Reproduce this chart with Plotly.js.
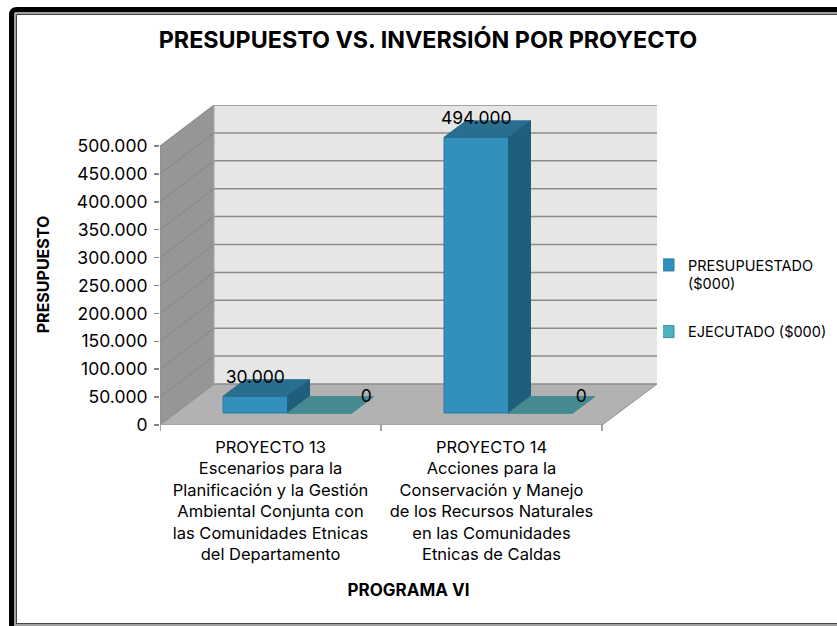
<!DOCTYPE html>
<html>
<head>
<meta charset="utf-8">
<script src="https://cdn.plot.ly/plotly-3.0.1.min.js"></script>
<style>html,body{margin:0;padding:0;background:#fff;overflow:hidden}#c{width:837px;height:626px}</style>
</head>
<body>
<div id="c"></div>
<script>
var categories = [
  'PROYECTO 13<br>Escenarios para la<br>Planificación y la Gestión<br>Ambiental Conjunta con<br>las Comunidades Etnicas<br>del Departamento',
  'PROYECTO 14<br>Acciones para la<br>Conservación y Manejo<br>de los Recursos Naturales<br>en las Comunidades<br>Etnicas de Caldas'
];
var categoryIndex = [0, 1];
var presupuestado = [30000, 494000];
var ejecutado = [0, 0];
var seriesNames = ['PRESUPUESTADO<br>($000)', 'EJECUTADO ($000)'];
var yTicks = [0, 50000, 100000, 150000, 200000, 250000, 300000, 350000, 400000, 450000, 500000];
var chartTitle = 'PRESUPUESTO VS. INVERSIÓN POR PROYECTO';
var yTitle = 'PRESUPUESTO';
var xTitle = 'PROGRAMA VI';

var W = 837, H = 626;
var FONT = 'Inter, Lato, sans-serif';
var catPx = 221, yPx = 279 / 500000;
var left = 160, right = 657, top_ = 105, bottom = 425;
function ux(px) { return px / catPx; }
function uy(px) { return px / yPx; }
var xMin = -0.5, xMax = -0.5 + ux(right - left);
var yMax = uy(bottom - top_);
var wallDX = ux(54), wallDY = uy(41);
var barOff = ux(63 - 110.5), barW = ux(64.5), barDX = ux(22), barDY = uy(16.5), barBase = uy(12);
var zeroLabelShift = [46.5, 40.5];

function fmt(v) { return String(v).replace(/\B(?=(\d{3})+$)/g, '.'); }
function poly(refs, pts, fill, line, lw) {
  var d = pts.map(function (p, i) { return (i ? 'L' : 'M') + p[0] + ',' + p[1]; }).join('') + 'Z';
  return { type: 'path', path: d, xref: 'x', yref: 'y', layer: 'below', fillcolor: fill,
           line: { color: line || fill, width: lw === undefined ? 1 : lw } };
}
function seg(x0, y0, x1, y1, color, w) {
  return { type: 'line', xref: 'x', yref: 'y', x0: x0, y0: y0, x1: x1, y1: y1, layer: 'below',
           line: { color: color, width: w } };
}
function pline(x0, y0, x1, y1, color, w) {
  return { type: 'line', xref: 'paper', yref: 'paper', x0: x0 / W, y0: 1 - y0 / H, x1: x1 / W, y1: 1 - y1 / H,
           layer: 'below', line: { color: color, width: w } };
}

var xEnd = 1.5;
var shapes = [];
// frame
shapes.push({ type: 'path', xref: 'paper', yref: 'paper', layer: 'below', line: { color: '#000', width: 5 },
  path: 'M' + 11.5 / W + ',0 L' + 11.5 / W + ',' + (1 - 15 / H) + ' Q' + 11.5 / W + ',' + (1 - 9.5 / H) + ' ' + 17 / W + ',' + (1 - 9.5 / H) + ' L1,' + (1 - 9.5 / H) });
shapes.push(pline(15, 13, 15, 626, '#a0a0a0', 2));
shapes.push(pline(15, 13, 837, 13, '#a0a0a0', 2));
shapes.push(pline(16.5, 14.5, 16.5, 623, '#444', 1));
shapes.push(pline(16.5, 14.5, 837, 14.5, '#444', 1));
shapes.push(pline(16, 623.5, 837, 623.5, '#444', 1));
shapes.push(pline(14, 625, 837, 625, '#a0a0a0', 2));
// walls and floor
shapes.push(poly(0, [[xMin + wallDX, wallDY], [xMax, wallDY], [xMax, yMax], [xMin + wallDX, yMax]], '#E6E6E6', '#E6E6E6', 0));
shapes.push(poly(0, [[xMin, 0], [xMin + wallDX, wallDY], [xMin + wallDX, yMax], [xMin, uy(279)]], '#969696', '#969696', 0));
shapes.push(poly(0, [[xMin, 0], [xEnd, 0], [xMax, wallDY], [xMin + wallDX, wallDY]], '#B2B2B2', '#B2B2B2', 0));
yTicks.forEach(function (t) {
  shapes.push(seg(xMin, t, xMin + wallDX, t + wallDY, '#868686', 1));
  shapes.push(seg(xMin + wallDX, t + wallDY, xMax, t + wallDY, '#8C8C8C', 1.5));
});
shapes.push(seg(xMin, 0, xMin, uy(279), '#8C8C8C', 1));
shapes.push(seg(xMin + wallDX, wallDY, xMin + wallDX, yMax, '#A6A6A6', 1));
shapes.push(seg(xMin, 0, xEnd, 0, '#A0A0A0', 1.5));
shapes.push(seg(xEnd, 0, xMax, wallDY, '#8C8C8C', 1));
[-0.5, 0.5, 1.5].forEach(function (v) {
  shapes.push({ type: 'line', xref: 'x', yref: 'paper', x0: v, x1: v, y0: 1 - 425 / H, y1: 1 - 431 / H, layer: 'below',
                line: { color: '#868686', width: 1.5 } });
});

function faces(values, shift, kind) {
  var xs = [], ys = [];
  values.forEach(function (v, i) {
    var x0 = categoryIndex[i] + barOff + shift, x1 = x0 + barW, b = barBase, t = barBase + v;
    var pts = kind === 'top'
      ? [[x0, t], [x1, t], [x1 + barDX, t + barDY], [x0 + barDX, t + barDY], [x0, t]]
      : [[x1, b], [x1 + barDX, b + barDY], [x1 + barDX, t + barDY], [x1, t], [x1, b]];
    pts.forEach(function (p) { xs.push(p[0]); ys.push(p[1]); });
    xs.push(null); ys.push(null);
  });
  return { x: xs, y: ys };
}
function faceTrace(d, color) {
  return { type: 'scatter', mode: 'lines', x: d.x, y: d.y, fill: 'toself', fillcolor: color,
           line: { color: color, width: 1 }, hoverinfo: 'skip', showlegend: false };
}

var traces = [
  { type: 'bar', name: seriesNames[0], x: categoryIndex, y: presupuestado, base: barBase, width: barW, offset: barOff,
    marker: { color: '#3390BC', line: { color: '#2A7AA0', width: 1 } }, legendgroup: 'a', hoverinfo: 'skip' },
  { type: 'bar', name: seriesNames[1], x: categoryIndex, y: ejecutado, base: barBase, width: barW, offset: barOff + barW,
    marker: { color: '#4DB2C0', line: { color: '#3A8A98', width: 1 } }, legendgroup: 'b', hoverinfo: 'skip' },
  faceTrace(faces(presupuestado, 0, 'top'), '#286E8F'),
  faceTrace(faces(presupuestado, 0, 'side'), '#205F7C'),
  faceTrace(faces(ejecutado, barW, 'top'), '#458A90'),
  { type: 'scatter', mode: 'text', x: categoryIndex.map(function (c) { return c + barOff + barW / 2; }),
    y: presupuestado.map(function (v) { return v + barBase + uy(18); }), text: presupuestado.map(fmt),
    textposition: 'middle center', textfont: { family: FONT, size: 17.5, color: '#000' }, showlegend: false, hoverinfo: 'skip', cliponaxis: false },
  { type: 'scatter', mode: 'text', x: categoryIndex.map(function (c, i) { return c + barOff + barW * 1.5 + ux(zeroLabelShift[i]); }),
    y: ejecutado.map(function (v) { return v + barBase + uy(15); }), text: ejecutado.map(fmt),
    textposition: 'middle center', textfont: { family: FONT, size: 17.5, color: '#000' }, showlegend: false, hoverinfo: 'skip', cliponaxis: false }
];

var layout = {
  width: W, height: H,
  margin: { l: 0, r: 0, t: 0, b: 0, pad: 0 },
  paper_bgcolor: '#fff', plot_bgcolor: 'rgba(0,0,0,0)',
  separators: ',.',
  barmode: 'overlay',
  font: { family: FONT, size: 15, color: '#000' },
  title: { text: '<b>' + chartTitle + '</b>', font: { family: FONT, size: 23.3, color: '#000' },
           x: 428 / W, xanchor: 'center', xref: 'paper', y: 1 - 40 / H, yanchor: 'middle', yref: 'paper' },
  xaxis: { domain: [left / W, right / W], range: [xMin, xMax], tickmode: 'array', tickvals: categoryIndex, ticktext: categories,
           ticks: 'outside', ticklen: 7, tickcolor: 'rgba(0,0,0,0)', showgrid: false, zeroline: false, showline: false, automargin: false,
           tickfont: { family: FONT, size: 16.5, color: '#000' },
           title: { text: '<b>' + xTitle + '</b>', font: { family: FONT, size: 17, color: '#000' }, standoff: 21 } },
  yaxis: { domain: [1 - bottom / H, 1 - top_ / H], range: [0, yMax], tickmode: 'array', tickvals: yTicks, tickformat: ',d',
           ticks: 'outside', ticklen: 5, tickcolor: '#868686', tickwidth: 1.5, ticklabelstandoff: 3, showgrid: false, zeroline: false, showline: false, automargin: false,
           tickfont: { family: FONT, size: 17.5, color: '#000' },
           title: { text: '<b>' + yTitle + '\u00a0\u00a0\u00a0\u00a0\u00a0.</b>'.replace('.', '\u200b'), font: { family: FONT, size: 16, color: '#000' }, standoff: 23 } },
  showlegend: true,
  legend: { x: 663 / W, xanchor: 'left', y: 1 - 249 / H, yanchor: 'top', traceorder: 'grouped', tracegroupgap: 26, valign: 'top',
            itemwidth: 30, indentation: -15, bgcolor: 'rgba(0,0,0,0)', font: { family: FONT, size: 14.5, color: '#000' } },
  shapes: shapes
};
Plotly.newPlot('c', traces, layout, { displayModeBar: false, staticPlot: true });
</script>
</body>
</html>
